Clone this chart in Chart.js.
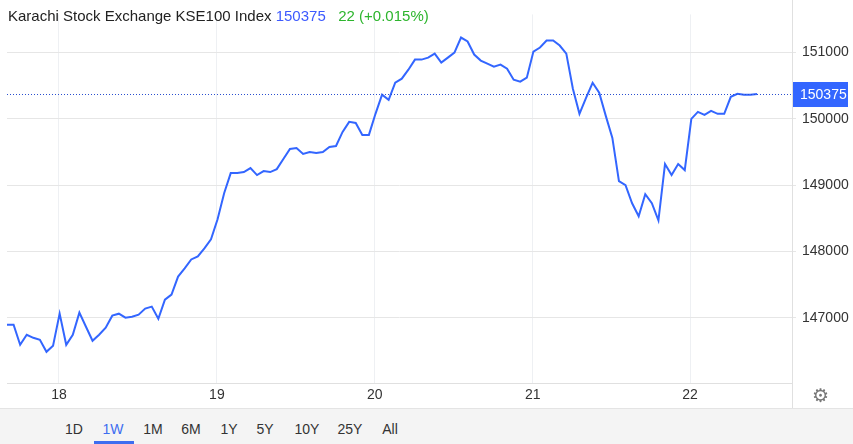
<!DOCTYPE html>
<html><head><meta charset="utf-8">
<script src="https://cdn.jsdelivr.net/npm/chart.js@4"></script>
<style>
body{margin:0;width:853px;height:444px;overflow:hidden;font-family:"Liberation Sans",Arial,sans-serif;background:#fff;position:relative}
#wrap{position:absolute;left:0;top:0;width:853px;height:408px}
#title{position:absolute;left:8px;top:7px;font-size:15px;color:#222;white-space:nowrap}
#foot{position:absolute;left:0;top:408px;width:853px;height:36px;background:#f4f4f4;border-top:1px solid #e4e4e4}
#foot span{position:absolute;top:12px;font-size:14px;color:#333;transform:translateX(-50%)}
#gear{position:absolute;left:812px;top:384px;font-size:19px;color:#777;font-family:"DejaVu Sans"}
</style></head><body>
<div id="wrap"><canvas id="c"></canvas></div>
<div id="title">Karachi Stock Exchange KSE100 Index <span style="color:#3d5afe">150375</span>&nbsp;&nbsp; <span style="color:#2db52d">22 (+0.015%)</span></div>
<div id="gear">⚙</div>
<div id="foot">
<span style="left:74px">1D</span><span style="left:113px;color:#3d6df0">1W</span><span style="left:153px">1M</span><span style="left:191px">6M</span><span style="left:229px">1Y</span><span style="left:265px">5Y</span><span style="left:307px">10Y</span><span style="left:350px">25Y</span><span style="left:390px">All</span>
<div style="position:absolute;left:94px;top:32px;width:40px;height:4px;background:#3d6df0"></div>
</div>
<script>
const values=[146894,146894,146591,146743,146697,146667,146485,146576,147061,146591,
146743,147076,146864,146652,146743,146849,147031,147061,147000,147015,
147046,147137,147167,146985,147273,147349,147621,147743,147879,147924,
148046,148182,148485,148879,149182,149182,149197,149258,149152,149212,
149197,149242,149394,149545,149561,149470,149500,149485,149500,149576,
149591,149803,149955,149939,149758,149758,150076,150364,150288,150545,
150606,150742,150894,150894,150924,150985,150848,150924,151000,151227,
151167,150970,150879,150833,150788,150818,150758,150591,150561,150621,
151015,151076,151182,151182,151106,150985,150455,150076,150318,150545,
150394,150045,149712,149061,149000,148727,148530,148864,148727,148470,
149318,149152,149318,149227,150000,150106,150061,150121,150076,150076,
150333,150379,150364,150364,150375];
const dayLabels=["18","19","20","21","22"];
const dayIdx=[7.9,31.9,55.9,79.9,103.8];
const yTicks=[147000,148000,149000,150000,151000];
const last=150375;
const pts=values.map((v,i)=>({x:i,y:v}));
const overlay={id:'ov',afterDatasetsDraw(ch){
 const c=ch.ctx,a=ch.chartArea,y=ch.scales.y.getPixelForValue(last);
 c.save();c.strokeStyle='#2a4fd0';c.lineWidth=1;c.setLineDash([1,2]);
 c.beginPath();c.moveTo(a.left,y+0.5);c.lineTo(a.right,y+0.5);c.stroke();c.setLineDash([]);
 c.fillStyle='#3366ff';c.fillRect(a.right,y-12,56,25);
 c.fillStyle='#fff';c.font='14px "Liberation Sans",Arial';c.textBaseline='middle';c.fillText(String(last),a.right+8,y+1);
 c.strokeStyle='#e0e0e0';c.beginPath();c.moveTo(a.right+0.5,0);c.lineTo(a.right+0.5,408);c.stroke();
 c.restore();}};
new Chart(document.getElementById('c'),{type:'line',
 data:{datasets:[{data:pts,borderColor:'#3366ff',borderWidth:2,pointRadius:0,tension:0,fill:false}]},
 options:{responsive:true,maintainAspectRatio:false,animation:false,
  layout:{padding:{left:7,top:0,right:0,bottom:0}},
  plugins:{legend:{display:false},tooltip:{enabled:false}},
  scales:{
   x:{type:'linear',min:0,max:119.3,
    afterBuildTicks(s){s.ticks=dayIdx.map(v=>({value:v}));},
    ticks:{callback:(v,i)=>dayLabels[i],color:'#333',font:{size:14,family:'"Liberation Sans",Arial'},maxRotation:0,padding:4},
    grid:{color:'#eef0f3',drawTicks:false},border:{color:'#e0e0e0'},
    afterFit(s){s.height=25;}},
   y:{position:'right',min:146015,max:151576,
    afterBuildTicks(s){s.ticks=yTicks.map(v=>({value:v}));},
    ticks:{callback:v=>String(v),color:'#333',font:{size:14,family:'"Liberation Sans",Arial'},padding:6},
    grid:{color:'#e6e6e6',tickLength:4},border:{display:false},
    afterFit(s){s.width=61;}}
  }},plugins:[overlay]});
</script></body></html>
